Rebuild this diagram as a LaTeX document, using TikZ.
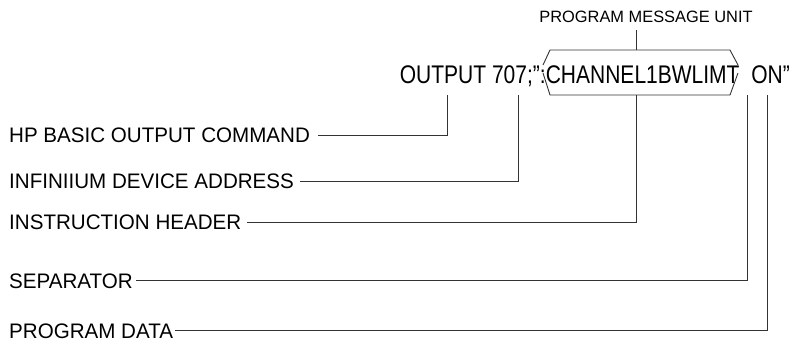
\documentclass[tikz,border=0pt]{standalone}
\usepackage{fontspec}
\setmainfont{Liberation Sans}
\newfontfamily\labf{Liberation Sans}[FakeStretch=0.98]
\newfontfamily\cmdf{Liberation Sans}[FakeStretch=0.824]
\newfontfamily\topf{Liberation Sans}
\begin{document}
\begin{tikzpicture}[x=1pt,y=-1pt,
  lab/.style={anchor=base west,inner xsep=0pt,inner ysep=0pt,font=\labf\fontsize{21}{24}\selectfont},
  conn/.style={draw=black!80,line width=0.9pt}]
\useasboundingbox (0,0) rectangle (793,343);
% main command text
\node[anchor=base east,inner sep=0pt,font=\cmdf\fontsize{25.5}{28}\selectfont] (cmd) at (790,83) {OUTPUT 707;”:CHANNEL1BWLIMT\ \ ON”};
\node[anchor=base,inner sep=0pt,font=\topf\fontsize{16.4}{20}\selectfont] (pmu) at (646,22) {PROGRAM MESSAGE UNIT};
% brace
\coordinate (bt) at (636,50);
\coordinate (bb) at (636,95);
\draw[conn] (543,65) -- (550,50) -- (730,50) -- (738,65);
\draw[conn] (543,73) -- (550,95) -- (730,95) -- (738,73);
\draw[conn] (bt |- 0,30) -- (bt);
% labels
\node[lab] (hp) at (9,142) {HP BASIC OUTPUT COMMAND};
\node[lab] (dev) at (9,188.5) {INFINIIUM DEVICE ADDRESS};
\node[lab] (ins) at (9,229.5) {INSTRUCTION HEADER};
\node[lab] (sep) at (9,288) {SEPARATOR};
\node[lab] (dat) at (9,338) {PROGRAM DATA};
% tops of leaders
\coordinate (t1) at (447,95);
\coordinate (t2) at (518,95);
\coordinate (t4) at (747.5,95);
\coordinate (t5) at (767,95);
\draw[conn] ([xshift=8pt]hp.east |- 0,135) -| (t1);
\draw[conn] ([xshift=6pt]dev.east |- 0,181) -| (t2);
\draw[conn] ([xshift=5pt]ins.east |- 0,222) -| (bb);
\draw[conn] ([xshift=3pt]sep.east |- 0,280) -| (t4);
\draw[conn] ([xshift=2pt]dat.east |- 0,330) -| (t5);
\end{tikzpicture}
\end{document}
